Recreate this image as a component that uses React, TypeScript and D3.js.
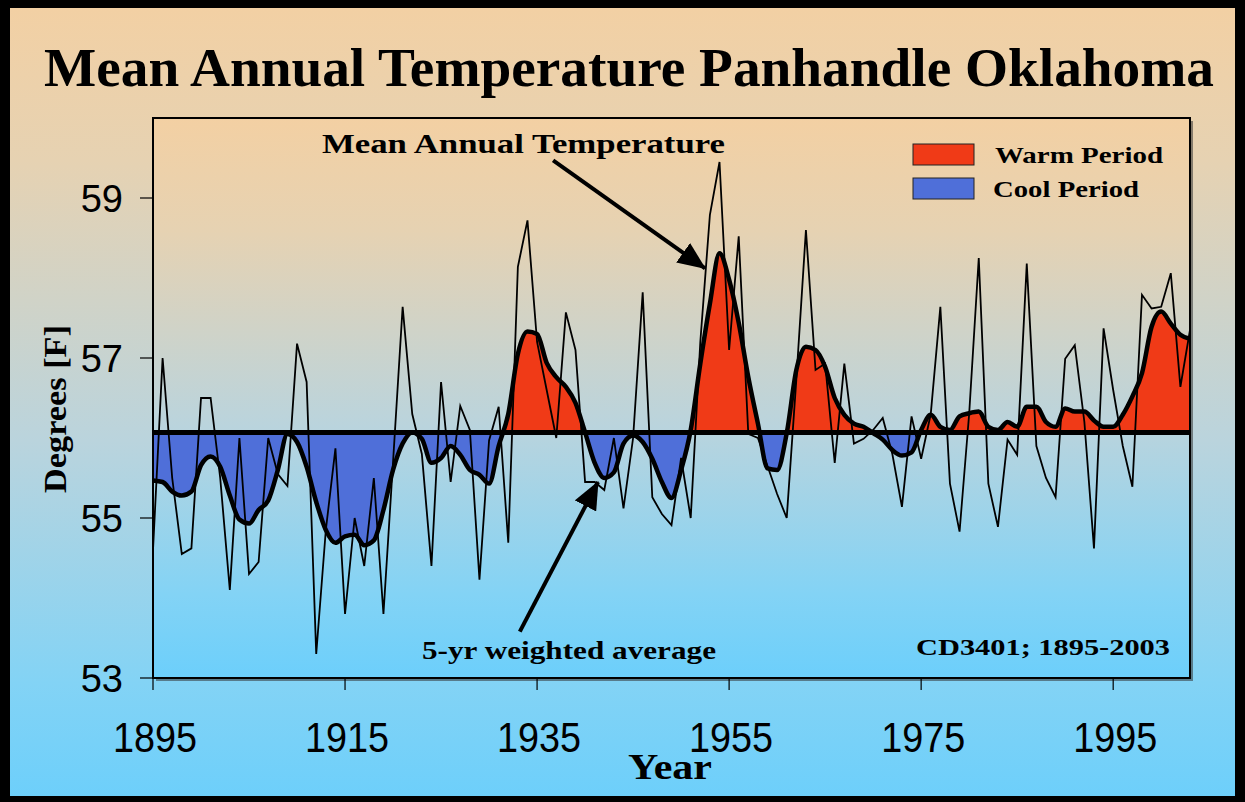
import React from 'react';
import * as d3 from 'd3';

const START_YEAR = 1895;
const END_YEAR = 2003;

// Mean annual temperature (°F), 1895–2003
const annualTemp = [
  54.6, 57.0, 55.5, 54.55, 54.62, 56.5, 56.5, 55.5, 54.1, 56.0,
  54.3, 54.45, 56.0, 55.55, 55.4, 57.18, 56.7, 53.3, 54.85, 55.87,
  53.8, 55.0, 54.4, 55.5, 53.8, 55.7, 57.64, 56.3, 55.8, 54.4,
  56.7, 55.45, 56.4, 56.1, 54.23, 55.97, 56.39, 54.69, 58.14, 58.72,
  57.2, 56.6, 56.0, 57.57, 57.1, 55.45, 55.45, 55.35, 56.0, 55.12,
  56.0, 57.82, 55.26, 55.05, 54.91, 55.75, 55.0, 57.2, 58.79, 59.45,
  57.1, 58.52, 56.05, 56.0, 55.65, 55.3, 55.0, 56.73, 58.6, 56.85,
  56.93, 55.69, 56.93, 55.93, 55.99, 56.1, 56.25, 55.8, 55.14, 56.27,
  55.74, 56.3, 57.64, 55.43, 54.83, 56.3, 58.25, 55.43, 54.89, 55.98,
  55.79, 58.18, 55.9, 55.5, 55.26, 56.99, 57.16, 56.2, 54.62, 57.37,
  56.6, 55.9, 55.39, 57.79, 57.62, 57.64, 58.06, 56.64, 57.35,
];

// 5-yr weighted average (°F), 1895–2003
const weightedAvg = [
  55.47, 55.45, 55.33, 55.28, 55.33, 55.66, 55.77, 55.64, 55.28, 54.98,
  54.93, 55.1, 55.22, 55.6, 56.05, 55.95, 55.64, 55.2, 54.85, 54.69,
  54.77, 54.79, 54.66, 54.72, 55.1, 55.6, 55.93, 56.07, 55.99, 55.69,
  55.75, 55.9, 55.79, 55.6, 55.54, 55.43, 55.9, 56.3, 57.05, 57.33,
  57.3, 56.94, 56.76, 56.64, 56.44, 56.07, 55.69, 55.5, 55.57, 55.93,
  56.03, 55.95, 55.74, 55.45, 55.25, 55.6, 56.1, 56.93, 57.68, 58.31,
  57.98, 57.44, 56.76, 56.18, 55.62, 55.6, 56.06, 56.85, 57.14, 57.1,
  56.89, 56.5, 56.29, 56.18, 56.14, 56.06, 55.98, 55.85, 55.78, 55.82,
  56.1, 56.29, 56.14, 56.1, 56.27, 56.31, 56.33, 56.14, 56.1, 56.2,
  56.14, 56.39, 56.39, 56.2, 56.14, 56.37, 56.33, 56.33, 56.22, 56.14,
  56.14, 56.29, 56.52, 56.81, 57.39, 57.58, 57.43, 57.29, 57.24,
];

const longTermMean = 56.07;
const yTicks = [53, 55, 57, 59];
const xTicks = [1895, 1915, 1935, 1955, 1975, 1995];
const legendItems = [
  { label: 'Warm Period', color: '#F03A17' },
  { label: 'Cool Period', color: '#4F6FD9' },
];

const SERIF = "'Liberation Serif', 'Times New Roman', Times, serif";
const SANS = "'Liberation Sans', Arial, Helvetica, sans-serif";

type Pt = { year: number; v: number };

export default function App() {
  const W = 1245;
  const H = 802;
  const left = 153, right = 1190, top = 118, bottom = 678;

  const x = d3.scaleLinear().domain([START_YEAR, END_YEAR]).range([left, right]);
  const y = d3.scaleLinear().domain([53, 60]).range([bottom, top]);

  const annual: Pt[] = annualTemp.map((v, i) => ({ year: START_YEAR + i, v }));
  const avg: Pt[] = weightedAvg.map((v, i) => ({ year: START_YEAR + i, v }));

  const thinLine = d3.line<Pt>().x(d => x(d.year)).y(d => y(d.v));
  const smoothLine = d3.line<Pt>().curve(d3.curveMonotoneX).x(d => x(d.year)).y(d => y(d.v));
  const fillArea = d3
    .area<Pt>()
    .curve(d3.curveMonotoneX)
    .x(d => x(d.year))
    .y0(y(longTermMean))
    .y1(d => y(d.v));

  const yMean = y(longTermMean);

  // annotation arrows, in data coordinates
  const arrow1 = { from: [1936.67, 59.47], to: [1952.5, 58.12] };
  const arrow2 = { from: [1933.2, 53.58], to: [1941.35, 55.45] };

  return (
    <svg
      width={W}
      height={H}
      style={{ position: 'absolute', left: 0, top: 0, display: 'block' }}
    >
      <defs>
        <linearGradient id="bg" x1="0" y1="0" x2="0" y2="1">
          <stop offset="0" stopColor="#F3D0A3" />
          <stop offset="0.2" stopColor="#E6D2B2" />
          <stop offset="0.55" stopColor="#BAD4DD" />
          <stop offset="0.85" stopColor="#83D3F5" />
          <stop offset="1" stopColor="#6CCFFB" />
        </linearGradient>
        <clipPath id="plotClip">
          <rect x={left} y={top} width={right - left} height={bottom - top} />
        </clipPath>
        <clipPath id="aboveClip">
          <rect x={left} y={top} width={right - left} height={yMean - top} />
        </clipPath>
        <clipPath id="belowClip">
          <rect x={left} y={yMean} width={right - left} height={bottom - yMean} />
        </clipPath>
        <marker
          id="arrowHead"
          markerUnits="userSpaceOnUse"
          markerWidth={30}
          markerHeight={24}
          refX={27}
          refY={12}
          orient="auto"
        >
          <path d="M0,0 L28,12 L0,24 Z" fill="#000" />
        </marker>
      </defs>

      {/* background */}
      <rect x={0} y={0} width={W} height={H} fill="url(#bg)" />

      {/* title */}
      <text
        x={629}
        y={86}
        textAnchor="middle"
        fontFamily={SERIF}
        fontWeight="bold"
        fontSize={55}
        textLength={1170}
        lengthAdjust="spacingAndGlyphs"
        fill="#000"
      >
        Mean Annual Temperature Panhandle Oklahoma
      </text>

      {/* plot frame shadow */}
      <rect x={left + 3} y={top + 3} width={right - left} height={bottom - top} fill="#333" opacity={0.55} />
      <rect x={left} y={top} width={right - left} height={bottom - top} fill="url(#bg)" />

      <g clipPath="url(#plotClip)">
        <path d={fillArea(avg) || ''} fill="#F03A17" clipPath="url(#aboveClip)" />
        <path d={fillArea(avg) || ''} fill="#4F6FD9" clipPath="url(#belowClip)" />
        <path d={thinLine(annual) || ''} fill="none" stroke="#000" strokeWidth={1.8} strokeLinejoin="miter" />
        <path d={smoothLine(avg) || ''} fill="none" stroke="#000" strokeWidth={4.5} strokeLinejoin="round" />
      </g>

      {/* long-term mean line */}
      <line x1={left} x2={right} y1={yMean} y2={yMean} stroke="#000" strokeWidth={5} />

      {/* plot frame */}
      <rect x={left} y={top} width={right - left} height={bottom - top} fill="none" stroke="#000" strokeWidth={2} />

      {/* y axis ticks & labels */}
      {yTicks.map(t => (
        <g key={`y${t}`}>
          <line x1={left - 13} x2={left} y1={y(t)} y2={y(t)} stroke="#000" strokeWidth={1.2} />
          <text
            x={123}
            y={y(t) + 13.5}
            textAnchor="end"
            fontFamily={SANS}
            fontSize={38}
            fill="#000"
          >
            {t}
          </text>
        </g>
      ))}

      {/* x axis ticks & labels */}
      {xTicks.map(t => (
        <g key={`x${t}`}>
          <line x1={x(t)} x2={x(t)} y1={bottom} y2={bottom + 12} stroke="#000" strokeWidth={1.2} />
          <text
            x={x(t) + 2}
            y={752}
            textAnchor="middle"
            fontFamily={SANS}
            fontSize={42}
            textLength={84}
            lengthAdjust="spacingAndGlyphs"
            fill="#000"
          >
            {t}
          </text>
        </g>
      ))}

      {/* axis titles */}
      <text
        x={670}
        y={779}
        textAnchor="middle"
        fontFamily={SERIF}
        fontWeight="bold"
        fontSize={36}
        textLength={84}
        lengthAdjust="spacingAndGlyphs"
        fill="#000"
      >
        Year
      </text>
      <text
        transform={`translate(66, 409) rotate(-90)`}
        textAnchor="middle"
        fontFamily={SERIF}
        fontWeight="bold"
        fontSize={31}
        textLength={168}
        lengthAdjust="spacingAndGlyphs"
        fill="#000"
      >
        Degrees [F]
      </text>

      {/* legend */}
      {legendItems.map((item, i) => (
        <g key={item.label}>
          <rect
            x={913}
            y={144 + i * 34}
            width={61}
            height={21}
            fill={item.color}
            stroke="#222"
            strokeWidth={1}
          />
          <text
            x={i === 0 ? 995 : 993}
            y={163 + i * 34}
            fontFamily={SERIF}
            fontWeight="bold"
            fontSize={23}
            textLength={i === 0 ? 168 : 146}
            lengthAdjust="spacingAndGlyphs"
            fill="#000"
          >
            {item.label}
          </text>
        </g>
      ))}

      {/* annotations */}
      <text
        x={322}
        y={153}
        fontFamily={SERIF}
        fontWeight="bold"
        fontSize={27}
        textLength={403}
        lengthAdjust="spacingAndGlyphs"
        fill="#000"
      >
        Mean Annual Temperature
      </text>
      <line
        x1={x(arrow1.from[0])}
        y1={y(arrow1.from[1])}
        x2={x(arrow1.to[0])}
        y2={y(arrow1.to[1])}
        stroke="#000"
        strokeWidth={4}
        markerEnd="url(#arrowHead)"
      />
      <text
        x={422}
        y={659}
        fontFamily={SERIF}
        fontWeight="bold"
        fontSize={25}
        textLength={294}
        lengthAdjust="spacingAndGlyphs"
        fill="#000"
      >
        5-yr weighted average
      </text>
      <line
        x1={x(arrow2.from[0])}
        y1={y(arrow2.from[1])}
        x2={x(arrow2.to[0])}
        y2={y(arrow2.to[1])}
        stroke="#000"
        strokeWidth={4}
        markerEnd="url(#arrowHead)"
      />
      <text
        x={916}
        y={655}
        fontFamily={SERIF}
        fontWeight="bold"
        fontSize={23}
        textLength={254}
        lengthAdjust="spacingAndGlyphs"
        fill="#000"
      >
        CD3401; 1895-2003
      </text>

      {/* outer black border */}
      <rect x={0} y={0} width={W} height={8} fill="#000" />
      <rect x={0} y={H - 6} width={W} height={6} fill="#000" />
      <rect x={0} y={0} width={10} height={H} fill="#000" />
      <rect x={W - 10} y={0} width={10} height={H} fill="#000" />
    </svg>
  );
}
